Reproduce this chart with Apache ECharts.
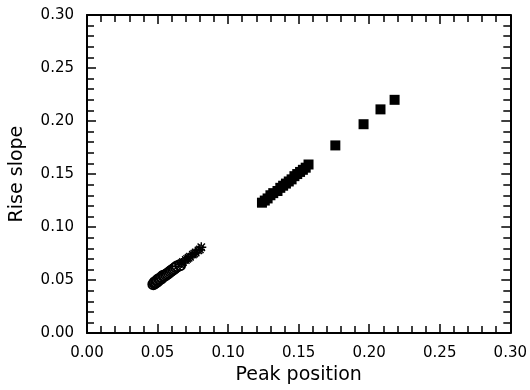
<!DOCTYPE html>
<html>
<head>
<meta charset="utf-8">
<script src="https://cdn.jsdelivr.net/npm/echarts@6/dist/echarts.min.js"></script>
<style>
  html, body { margin: 0; padding: 0; background: #fff; }
  #chart { width: 530px; height: 390px; }
</style>
</head>
<body>
<div id="chart"></div>
<script>
// low cluster, open circles
const circleX = [0.047, 0.048, 0.048, 0.049, 0.050, 0.050, 0.051, 0.052, 0.053, 0.053, 0.054, 0.055, 0.056, 0.057, 0.058, 0.059, 0.060, 0.061, 0.062, 0.063, 0.064, 0.066]
const circleY = [0.046, 0.047, 0.048, 0.048, 0.049, 0.050, 0.051, 0.051, 0.052, 0.053, 0.054, 0.054, 0.055, 0.056, 0.057, 0.058, 0.059, 0.060, 0.061, 0.062, 0.063, 0.064]

// asterisks continuing the low cluster
const starX = [0.064, 0.066, 0.067, 0.068, 0.070, 0.071, 0.072, 0.073, 0.075, 0.076, 0.077, 0.079, 0.080, 0.081]
const starY = [0.063, 0.065, 0.066, 0.067, 0.069, 0.070, 0.071, 0.072, 0.074, 0.075, 0.076, 0.078, 0.079, 0.081]

// filled squares
const squareX = [0.124, 0.126, 0.128, 0.130, 0.132, 0.135, 0.137, 0.139, 0.141, 0.143, 0.145, 0.147, 0.149, 0.151, 0.153, 0.155, 0.157, 0.176, 0.196, 0.208, 0.218]
const squareY = [0.123, 0.125, 0.127, 0.130, 0.132, 0.134, 0.137, 0.139, 0.141, 0.143, 0.145, 0.148, 0.150, 0.152, 0.154, 0.156, 0.159, 0.177, 0.197, 0.211, 0.220]

const axisMin = 0
const axisMax = 0.3
const axisStep = 0.05

const xTitle = "Peak position"
const yTitle = "Rise slope"

const font = "'DejaVu Sans', sans-serif"
const asterisk = "path://M0,4.3H10V5.7H0Z M4.3,0V10H5.7V0Z M0.8,1.8L1.8,0.8L9.2,8.2L8.2,9.2Z M8.2,0.8L9.2,1.8L1.8,9.2L0.8,8.2Z"

const pairs = (xs, ys) => xs.map((x, i) => [x, ys[i]])

const chart = echarts.init(document.getElementById("chart"), null, { renderer: "canvas" })

function makeAxis(showLabels, position, extra) {
  return Object.assign({
    type: "value",
    position: position,
    min: axisMin,
    max: axisMax,
    interval: axisStep,
    axisLine: { show: true, onZero: false, lineStyle: { color: "#000", width: 2 } },
    axisTick: { show: true, inside: true, length: 9, lineStyle: { color: "#000", width: 1.5 } },
    minorTick: { show: true, inside: true, splitNumber: 5, length: 7, lineStyle: { color: "#000", width: 1.5 } },
    splitLine: { show: false },
    axisLabel: {
      show: showLabels,
      color: "#000",
      fontFamily: font,
      fontSize: 15,
      margin: 13,
      formatter: (v) => v.toFixed(2)
    }
  }, extra || {})
}

const option = {
  animation: false,
  backgroundColor: "#fff",
  grid: { left: 86, right: 15, top: 15, bottom: 56, containLabel: false },
  xAxis: [
    makeAxis(true, "bottom", {
      name: xTitle,
      nameLocation: "middle",
      nameGap: 32,
      nameTextStyle: { color: "#000", fontFamily: font, fontSize: 19 }
    }),
    makeAxis(false, "top")
  ],
  yAxis: [
    makeAxis(true, "left", {
      name: yTitle,
      nameLocation: "middle",
      nameGap: 60,
      nameTextStyle: { color: "#000", fontFamily: font, fontSize: 19 }
    }),
    makeAxis(false, "right")
  ],
  series: [
    {
      name: "circles",
      type: "scatter",
      data: pairs(circleX, circleY),
      symbol: "emptyCircle",
      symbolSize: 10,
      itemStyle: { color: "#000", borderColor: "#000", borderWidth: 2.5, opacity: 1 }
    },
    {
      name: "stars",
      type: "scatter",
      data: pairs(starX, starY),
      symbol: asterisk,
      symbolSize: 10,
      itemStyle: { color: "#000", opacity: 1 }
    },
    {
      name: "squares",
      type: "scatter",
      data: pairs(squareX, squareY),
      symbol: "rect",
      symbolSize: 10,
      itemStyle: { color: "#000", opacity: 1 }
    }
  ]
}

chart.setOption(option)
</script>
</body>
</html>
